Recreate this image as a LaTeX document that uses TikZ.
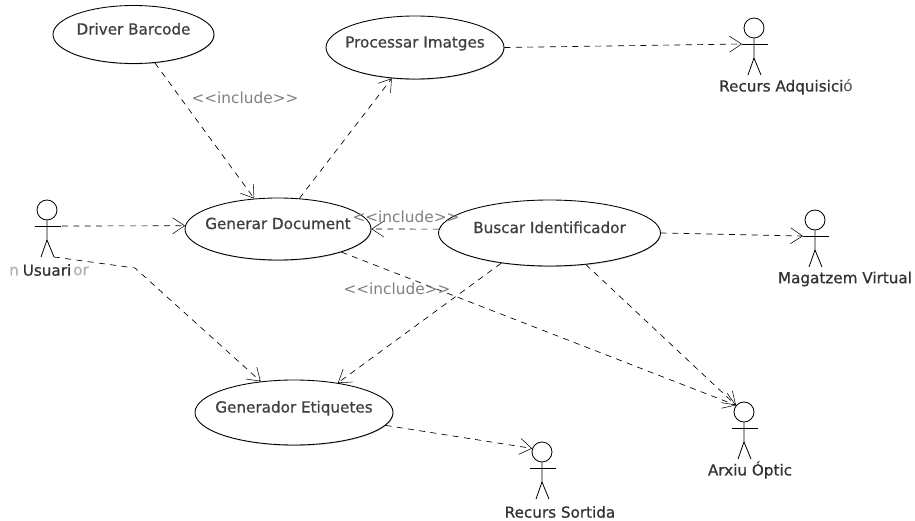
\documentclass[tikz,border=0pt]{standalone}
\usepackage{fontspec}
\usetikzlibrary{arrows.meta,shapes.geometric,shadows}
\newfontfamily\namefont[FakeBold=0.8]{DejaVu Sans}
\newfontfamily\thinfont{DejaVu Sans}
\newcommand\ucname[1]{\makebox[0pt]{#1}}
\begin{document}
\begin{tikzpicture}[x=.75pt,y=-.75pt,
	usecase/.style 2 args={ellipse,draw,fill=white,line width=.65pt,inner sep=0pt,
		minimum width=.75pt*#1,minimum height=.75pt*#2,text height=8pt,text depth=8pt,
		drop shadow={shadow xshift=.4pt,shadow yshift=-.6pt,fill=black!60},
		font=\namefont\fontsize{11.4}{13}\selectfont,text=black!75},
	rolename/.style={font=\namefont\fontsize{11.4}{13}\selectfont,text=black!80,inner sep=0pt},
	stereo/.style={font=\thinfont\fontsize{11.5}{13}\selectfont,text=black!50,inner sep=0pt},
	ghost/.style={font=\namefont\fontsize{11.4}{13}\selectfont,text=black!30,inner sep=0pt},
	dep/.style={line width=.5pt,dash pattern=on 4.5pt off 4pt,
		-{Straight Barb[length=9pt,width=12pt,line width=.4pt]}},
	actor/.pic={
		\node[circle,draw,line width=.65pt,minimum size=15pt,inner sep=0pt] (-head) at (0,-16) {};
		\coordinate (-hand) at (-12,0);
		\coordinate (-foot) at (7,31);
		\draw[line width=.6pt] (-hand) -- (14,0);
		\draw[line width=.6pt] (-head) -- (0,14) -- (-6,31);
		\draw[line width=.6pt] (0,14) -- (-foot);
	}]
	\useasboundingbox (0,0) rectangle (915,521);
	% use cases
	\node[usecase={161}{58}] (driver) at (133.5,34.5) {\ucname{Driver Barcode}};
	\node[usecase={178}{63}] (processar) at (415,47.5) {\ucname{Processar Imatges}};
	\node[usecase={186}{62}] (generar) at (278,229) {\ucname{Generar Document}};
	\node[usecase={222}{66}] (buscar) at (549.5,233) {\ucname{Buscar Identificador}};
	\node[usecase={198}{65}] (etiquetes) at (294,412.5) {\ucname{Generador Etiquetes}};
	% actors
	\pic (usuari) at (47,226) {actor};
	\pic (adquisicio) at (754,44) {actor};
	\pic (magatzem) at (815,236) {actor};
	\pic (arxiu) at (744,428) {actor};
	\pic (sortida) at (542,468) {actor};
	\node[ghost] (ghostl) at (14,271) {n};
	\node[ghost] (ghostr) at (81,271) {or};
	\node[rolename] (usuarilabel) at (47,270) {Usuari};
	\node[rolename] (adquisiciolabel) at (786,87) {Recurs Adquisici{\thinfont\color{black!70}ó}};
	\node[rolename] (magatzemlabel) at (845,279) {Magatzem Virtual};
	\node[rolename] (arxiulabel) at (750,470) {Arxiu Óptic};
	\node[rolename] (sortidalabel) at (560,512) {Recurs Sortida};
	% connectors
	\coordinate (bend) at (135,268);
	\draw[dep] (driver.-53) -- (generar.128);
	\draw[dep] (generar.55) -- (processar.233);
	\draw[dep] (processar.0) -- (adquisicio-hand);
	\draw[dep] (usuari-hand -| 62,0) -- (generar.178);
	\draw[dep] (usuari-foot) -- (bend) -- (etiquetes.137);
	\draw[dep] (buscar.178) -- (generar.0);
	\draw[dep] (buscar.0) -- (magatzem-hand);
	\draw[dep] (buscar.212) -- (etiquetes.34);
	\draw[dep] (buscar.-41) -- (arxiu-head.140);
	\draw[dep] (generar.-20) -- (arxiu-head.140);
	\draw[dep] (etiquetes.-8) -- (sortida-head.160);
	% stereotypes
	\node[stereo] (incdriver) at (245,98) {<{}<include>{}>};
	\node[stereo] (incbuscar) at (406,217) {<{}<include>{}>};
	\node[stereo] (incarxiu) at (397,289) {<{}<include>{}>};
\end{tikzpicture}
\end{document}
